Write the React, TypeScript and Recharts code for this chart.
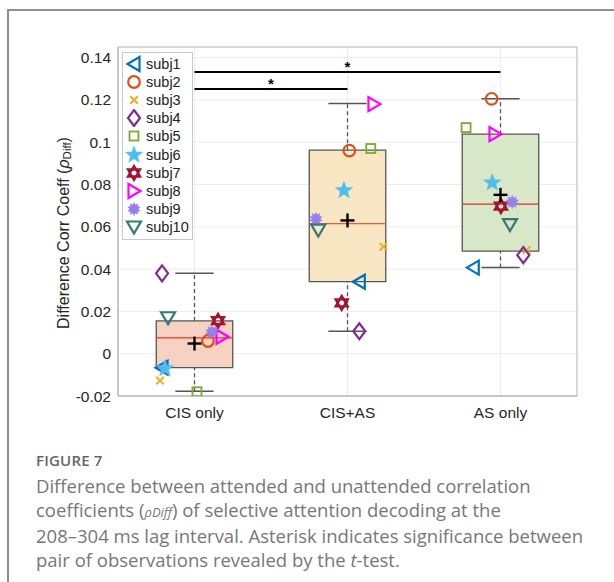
import React from 'react';
import {
  ComposedChart,
  XAxis,
  YAxis,
  CartesianGrid,
  Scatter,
  ReferenceArea,
  ReferenceLine,
  Legend,
} from 'recharts';

// ---------- data ----------
const categories = ['CIS only', 'CIS+AS', 'AS only'];
const catPos = [1, 2, 3];
const yTicks = [-0.02, 0, 0.02, 0.04, 0.06, 0.08, 0.1, 0.12, 0.14];

const boxQ1 = [-0.0066, 0.0341, 0.0485];
const boxQ3 = [0.0155, 0.0962, 0.1038];
const boxMedian = [0.0075, 0.0615, 0.0707];
const boxMean = [0.0048, 0.063, 0.0751];
const whiskerLow = [-0.0178, 0.0106, 0.0407];
const whiskerHigh = [0.038, 0.1183, 0.1205];

const subjNames = ['subj1', 'subj2', 'subj3', 'subj4', 'subj5', 'subj6', 'subj7', 'subj8', 'subj9', 'subj10'];
const subj1X = [0.788, 2.077, 2.822];
const subj1Y = [-0.0066, 0.034, 0.0407];
const subj2X = [1.088, 2.012, 2.942];
const subj2Y = [0.006, 0.096, 0.1205];
const subj3X = [0.775, 2.234, 3.171];
const subj3Y = [-0.0127, 0.0506, 0.049];
const subj4X = [0.788, 2.077, 3.149];
const subj4Y = [0.038, 0.0106, 0.0466];
const subj5X = [1.016, 2.152, 2.775];
const subj5Y = [-0.018, 0.097, 0.1069];
const subj6X = [0.807, 1.977, 2.946];
const subj6Y = [-0.007, 0.0772, 0.0808];
const subj7X = [1.154, 1.962, 3.003];
const subj7Y = [0.0156, 0.024, 0.0698];
const subj8X = [1.18, 2.173, 2.964];
const subj8Y = [0.008, 0.118, 0.1038];
const subj9X = [1.114, 1.794, 3.077];
const subj9Y = [0.0103, 0.0638, 0.0717];
const subj10X = [0.827, 1.809, 3.062];
const subj10Y = [0.017, 0.0584, 0.061];

const sigStart = [1, 1];
const sigEnd = [3, 2];
const sigLevel = [0.1332, 0.1252];
const sigMark = ['*', '*'];

// ---------- styles ----------
const boxFill = ['#f6d2c3', '#f9e7c3', '#d7e7c8'];
const medianColor = ['#f0302a', '#ee5a3a', '#d83030'];
const subjX = [subj1X, subj2X, subj3X, subj4X, subj5X, subj6X, subj7X, subj8X, subj9X, subj10X];
const subjY = [subj1Y, subj2Y, subj3Y, subj4Y, subj5Y, subj6Y, subj7Y, subj8Y, subj9Y, subj10Y];
const subjKind = ['triLeft', 'circle', 'cross', 'diamond', 'square', 'star', 'hexagram', 'triRight', 'burst', 'triDown'];
const subjColor = ['#0072BD', '#D95319', '#EDB120', '#7E2F8E', '#77AC30', '#4DBEEE', '#A2142F', '#FF00FF', '#9580f0', '#347a78'];

const FONT = '"Liberation Sans", Arial, Helvetica, sans-serif';

function starPts(cx: number, cy: number, n: number, ro: number, ri: number, rot = -90) {
  const pts: string[] = [];
  for (let i = 0; i < n * 2; i++) {
    const r = i % 2 === 0 ? ro : ri;
    const a = ((rot + (i * 180) / n) * Math.PI) / 180;
    pts.push(`${(cx + r * Math.cos(a)).toFixed(2)},${(cy + r * Math.sin(a)).toFixed(2)}`);
  }
  return pts.join(' ');
}

function triPts(cx: number, cy: number, r: number, rot: number) {
  const pts: string[] = [];
  for (let i = 0; i < 3; i++) {
    const a = ((rot + i * 120) * Math.PI) / 180;
    pts.push(`${(cx + r * Math.cos(a)).toFixed(2)},${(cy + r * Math.sin(a)).toFixed(2)}`);
  }
  return pts.join(' ');
}

function MarkerShape({ kind, color, cx, cy }: { kind: string; color: string; cx: number; cy: number }) {
  if (cx == null || cy == null) return null;
  const sw = 2.2;
  switch (kind) {
    case 'triLeft':
      return <polygon points={`${cx - 6.5},${cy} ${cx + 5.5},${cy - 7} ${cx + 5.5},${cy + 7}`} fill="none" stroke={color} strokeWidth={sw} strokeLinejoin="miter" />;
    case 'triRight':
      return <polygon points={`${cx + 6.5},${cy} ${cx - 5.5},${cy - 7} ${cx - 5.5},${cy + 7}`} fill="none" stroke={color} strokeWidth={sw} />;
    case 'triDown':
      return <polygon points={`${cx},${cy + 6.5} ${cx - 7},${cy - 5.5} ${cx + 7},${cy - 5.5}`} fill="none" stroke={color} strokeWidth={sw} />;
    case 'circle':
      return <circle cx={cx} cy={cy} r={5.8} fill="none" stroke={color} strokeWidth={sw} />;
    case 'cross':
      return (
        <g stroke={color} strokeWidth={2}>
          <line x1={cx - 3.8} y1={cy - 3.8} x2={cx + 3.8} y2={cy + 3.8} />
          <line x1={cx - 3.8} y1={cy + 3.8} x2={cx + 3.8} y2={cy - 3.8} />
        </g>
      );
    case 'diamond':
      return <polygon points={`${cx},${cy - 8} ${cx + 6},${cy} ${cx},${cy + 8} ${cx - 6},${cy}`} fill="none" stroke={color} strokeWidth={sw} />;
    case 'square':
      return <rect x={cx - 4.5} y={cy - 4.5} width={9} height={9} fill="none" stroke={color} strokeWidth={1.8} />;
    case 'star':
      return <polygon points={starPts(cx, cy, 5, 9, 3.8)} fill={color} stroke={color} strokeWidth={0.5} />;
    case 'hexagram':
      return (
        <g fill="none" stroke={color} strokeWidth={2.3}>
          <polygon points={triPts(cx, cy, 7, -90)} />
          <polygon points={triPts(cx, cy, 7, 90)} />
        </g>
      );
    case 'burst':
      return <polygon points={starPts(cx, cy, 10, 6.5, 4.2)} fill={color} stroke={color} strokeWidth={0.5} />;
    default:
      return null;
  }
}

function MeanPlus({ cx, cy }: any) {
  if (cx == null || cy == null) return null;
  return (
    <g stroke="#000" strokeWidth={2.4}>
      <line x1={cx - 7} y1={cy} x2={cx + 7} y2={cy} />
      <line x1={cx} y1={cy - 7} x2={cx} y2={cy + 7} />
    </g>
  );
}

function YLabel({ viewBox }: any) {
  const cx = viewBox.x + 3;
  const cy = 233;
  return (
    <text
      x={cx}
      y={cy}
      transform={`rotate(-90, ${cx}, ${cy})`}
      textAnchor="middle"
      dominantBaseline="central"
      fontFamily={FONT}
      fontSize={16}
      fill="#262626"
    >
      Difference Corr Coeff (<tspan fontStyle="italic">ρ</tspan>
      <tspan fontSize={11.5} dy={4}>Diff</tspan>
      <tspan dy={-4}>)</tspan>
    </text>
  );
}

function LegendBox() {
  return (
    <div
      style={{
        border: '1px solid #c9c9c9',
        background: '#fff',
        padding: '2px 3px 3px 2px',
        fontFamily: FONT,
        fontSize: 14.5,
        color: '#222',
      }}
    >
      {subjNames.map((n, i) => (
        <div key={n} style={{ display: 'flex', alignItems: 'center', height: 18.1 }}>
          <svg width={18} height={18} style={{ marginRight: 3 }}>
            <MarkerShape kind={subjKind[i]} color={subjColor[i]} cx={9} cy={9} />
          </svg>
          <span>{n}</span>
        </div>
      ))}
    </div>
  );
}

const meanData = catPos.map((x, i) => ({ x, y: boxMean[i] }));

export default function App() {
  return (
    <div style={{ position: 'absolute', left: 0, top: 0, width: 614, height: 582, overflow: 'hidden', background: '#fff' }}>
      <div
        style={{
          position: 'absolute',
          left: 7,
          top: 9,
          width: 640,
          height: 620,
          border: '2px solid #8f8f8f',
          boxSizing: 'border-box',
        }}
      />
      <div style={{ position: 'absolute', left: 0, top: 0 }}>
        <ComposedChart width={614} height={430} margin={{ top: 47, right: 37, bottom: 4, left: 60 }}>
          <CartesianGrid stroke="#ececec" strokeWidth={1} />
          <XAxis
            type="number"
            dataKey="x"
            domain={[0.5, 3.5]}
            ticks={catPos}
            tickFormatter={(v: number) => categories[catPos.indexOf(v)] ?? ''}
            allowDataOverflow
            stroke="#9a9a9a"
            tickLine={false}
            tickSize={0}
            tickMargin={11}
            height={30}
            tick={{ fill: '#262626', fontSize: 15.5, fontFamily: FONT }}
          />
          <YAxis
            type="number"
            dataKey="y"
            domain={[-0.02, 0.145]}
            ticks={yTicks}
            allowDataOverflow
            tickFormatter={(v: number) => String(v)}
            stroke="#9a9a9a"
            tickLine={false}
            tickSize={0}
            tickMargin={7}
            width={58}
            tick={{ fill: '#262626', fontSize: 15.5, fontFamily: FONT }}
            label={<YLabel />}
          />
          <ReferenceLine y={0.145} stroke="#bdbdbd" />
          <ReferenceLine x={3.5} stroke="#bdbdbd" />

          {catPos.map((c, i) => (
            <ReferenceArea
              key={`box${i}`}
              x1={c - 0.25}
              x2={c + 0.25}
              y1={boxQ1[i]}
              y2={boxQ3[i]}
              fill={boxFill[i]}
              fillOpacity={1}
              stroke="#555"
              strokeWidth={1.3}
            />
          ))}
          {catPos.map((c, i) => (
            <ReferenceLine
              key={`wu${i}`}
              segment={[{ x: c, y: boxQ3[i] }, { x: c, y: whiskerHigh[i] }]}
              stroke="#555"
              strokeDasharray="4 3"
              strokeWidth={1.3}
            />
          ))}
          {catPos.map((c, i) => (
            <ReferenceLine
              key={`wl${i}`}
              segment={[{ x: c, y: whiskerLow[i] }, { x: c, y: boxQ1[i] }]}
              stroke="#555"
              strokeDasharray="4 3"
              strokeWidth={1.3}
            />
          ))}
          {catPos.map((c, i) => (
            <ReferenceLine
              key={`cu${i}`}
              segment={[{ x: c - 0.125, y: whiskerHigh[i] }, { x: c + 0.125, y: whiskerHigh[i] }]}
              stroke="#555"
              strokeWidth={1.5}
            />
          ))}
          {catPos.map((c, i) => (
            <ReferenceLine
              key={`cl${i}`}
              segment={[{ x: c - 0.125, y: whiskerLow[i] }, { x: c + 0.125, y: whiskerLow[i] }]}
              stroke="#555"
              strokeWidth={1.5}
            />
          ))}
          {catPos.map((c, i) => (
            <ReferenceLine
              key={`md${i}`}
              segment={[{ x: c - 0.25, y: boxMedian[i] }, { x: c + 0.25, y: boxMedian[i] }]}
              stroke={medianColor[i]}
              strokeWidth={1.3}
            />
          ))}
          {sigLevel.map((lv, i) => (
            <ReferenceLine
              key={`sig${i}`}
              segment={[{ x: sigStart[i], y: lv }, { x: sigEnd[i], y: lv }]}
              stroke="#000"
              strokeWidth={2}
              label={{ value: sigMark[i], position: 'top', offset: 0, fill: '#000', fontSize: 15, fontWeight: 'bold', fontFamily: FONT }}
            />
          ))}

          {subjNames.map((n, s) => (
            <Scatter
              key={n}
              name={n}
              data={catPos.map((_, i) => ({ x: subjX[s][i], y: subjY[s][i] }))}
              isAnimationActive={false}
              shape={(p: any) => <MarkerShape kind={subjKind[s]} color={subjColor[s]} cx={p.cx} cy={p.cy} />}
            />
          ))}
          <Scatter name="mean" data={meanData} isAnimationActive={false} shape={(p: any) => <MeanPlus cx={p.cx} cy={p.cy} />} />

          <Legend
            layout="vertical"
            align="center"
            verticalAlign="middle"
            content={() => <LegendBox />}
            wrapperStyle={{ left: 122, top: 52, width: 'auto', height: 'auto' }}
          />
        </ComposedChart>
      </div>

      <div style={{ position: 'absolute', left: 36, top: 449, fontFamily: '"Open Sans", sans-serif' }}>
        <div style={{ fontSize: 15, fontWeight: 600, color: '#666', letterSpacing: 0.2, lineHeight: '22px' }}>FIGURE 7</div>
        <div style={{ fontSize: 18.5, color: '#777', lineHeight: '24px', marginTop: 3, whiteSpace: 'nowrap' }}>
          <div>Difference between attended and unattended correlation</div>
          <div>
            coefficients (<i style={{ fontSize: 13 }}>ρ</i><i style={{ fontSize: 13 }}>Diff</i>) of selective attention decoding at the
          </div>
          <div>208–304 ms lag interval. Asterisk indicates significance between</div>
          <div>
            pair of observations revealed by the <i>t</i>-test.
          </div>
        </div>
      </div>
    </div>
  );
}
